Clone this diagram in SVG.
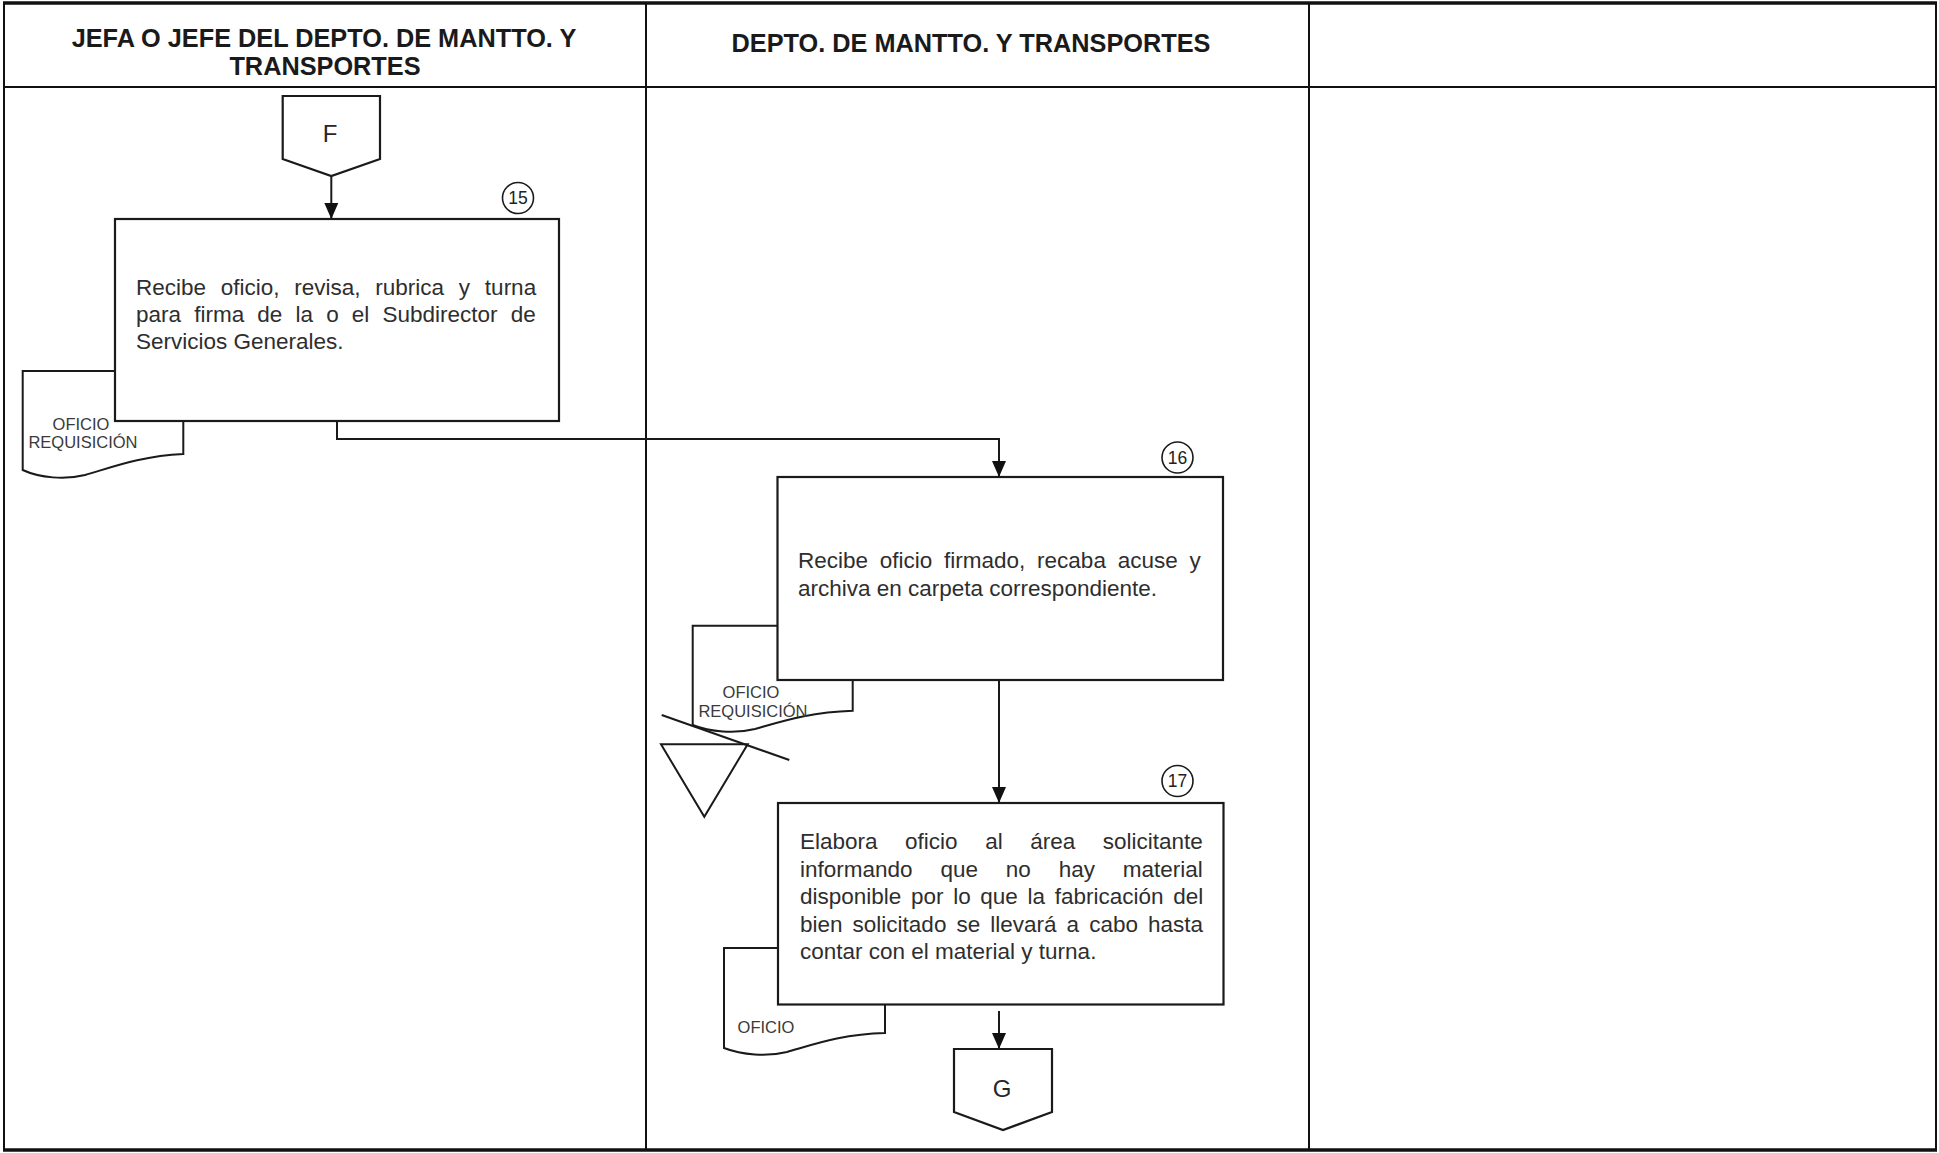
<svg xmlns="http://www.w3.org/2000/svg" width="1939" height="1153" viewBox="0 0 1939 1153">
<defs>
<style>
.frame{fill:none;stroke:#111;stroke-width:2}
.thick{stroke:#111;stroke-width:3.5}
.hdr{font-family:"Liberation Sans",Arial,sans-serif;font-weight:bold;font-size:25.3px;fill:#1a1a1a;text-anchor:middle}
.box{fill:#fff;stroke:#1a1a1a;stroke-width:2.2}
.doc{fill:#fff;stroke:#1a1a1a;stroke-width:2}
.txt{font-family:"Liberation Sans",Arial,sans-serif;font-size:22.5px;fill:#2e2e2e}
.small{font-family:"Liberation Sans",Arial,sans-serif;font-size:16.5px;fill:#3a3a3a;text-anchor:middle}
.num{font-family:"Liberation Sans",Arial,sans-serif;font-size:17.5px;fill:#222;text-anchor:middle}
.lbl{font-family:"Liberation Sans",Arial,sans-serif;font-size:24px;fill:#262626;text-anchor:middle}
.circ{fill:#fff;stroke:#1a1a1a;stroke-width:1.6}
.conn{fill:none;stroke:#1a1a1a;stroke-width:2}
</style>
<marker id="arr" markerWidth="16" markerHeight="14" refX="16" refY="7" orient="auto" markerUnits="userSpaceOnUse">
<path d="M0,0 L16,7 L0,14 Z" fill="#111"/>
</marker>
</defs>
<rect width="1939" height="1153" fill="#fff"/>

<g id="frame">
<rect class="frame" x="4" y="3" width="1932" height="1147"/>
<line class="thick" x1="3" y1="3" x2="1937" y2="3"/>
<line class="thick" x1="3" y1="1150" x2="1937" y2="1150"/>
<line class="frame" x1="4" y1="87" x2="1936" y2="87"/>
<line class="frame" x1="646" y1="3" x2="646" y2="1150"/>
<line class="frame" x1="1309" y1="3" x2="1309" y2="1150"/>
<text class="hdr" x="324" y="47">JEFA O JEFE DEL DEPTO. DE MANTTO. Y</text>
<text class="hdr" x="325" y="75">TRANSPORTES</text>
<text class="hdr" x="971" y="52">DEPTO. DE MANTTO. Y TRANSPORTES</text>
</g>

<g id="connectors">
<line class="conn" x1="331.3" y1="176" x2="331.3" y2="219" marker-end="url(#arr)"/>
<path class="conn" d="M337,421 V439 H999 V477" marker-end="url(#arr)"/>
<line class="conn" x1="999" y1="680" x2="999" y2="803" marker-end="url(#arr)"/>
<line class="conn" x1="999" y1="1011" x2="999" y2="1049" marker-end="url(#arr)"/>
</g>

<g id="conn-F">
<path class="box" d="M282.7,96 H380 V159 L331.3,176 L282.7,159 Z"/>
<text class="lbl" x="330" y="142">F</text>
</g>

<g id="doc-15">
<path class="doc" d="M22.7,371 H183.3 V454 C140,456 110,468 85,475 C65,480 40,478 22.7,470 Z"/>
<text class="small" x="81" y="430">OFICIO</text>
<text class="small" x="83" y="448">REQUISICIÓN</text>
</g>

<g id="step-15">
<rect class="box" x="115" y="219" width="444" height="202"/>
<circle class="circ" cx="518" cy="198" r="15.5"/>
<text class="num" x="518" y="204">15</text>
<text class="txt" x="136" y="295" style="word-spacing:8.5px">Recibe oficio, revisa, rubrica y turna</text>
<text class="txt" x="136" y="322" style="word-spacing:6.9px">para firma de la o el Subdirector de</text>
<text class="txt" x="136" y="349">Servicios Generales.</text>
</g>

<g id="doc-16">
<path class="doc" d="M692.7,625.7 H852.7 V710.7 C810,712 780,722 755,729 C735,734 710,732 692.7,725 Z"/>
<text class="small" x="751" y="698">OFICIO</text>
<text class="small" x="753" y="717">REQUISICIÓN</text>
</g>

<g id="archive">
<path class="conn" d="M661,744.3 H747.7 L704.3,816.7 Z"/>
<line class="conn" x1="661.7" y1="715" x2="789.3" y2="760"/>
</g>

<g id="step-16">
<rect class="box" x="777.5" y="477" width="445.5" height="203"/>
<circle class="circ" cx="1177.5" cy="457.5" r="15.5"/>
<text class="num" x="1177.5" y="463.5">16</text>
<text class="txt" x="798" y="568" style="word-spacing:5.5px">Recibe oficio firmado, recaba acuse y</text>
<text class="txt" x="798" y="595.5">archiva en carpeta correspondiente.</text>
</g>

<g id="doc-17">
<path class="doc" d="M724,948 H885 V1033 C842,1034 812,1045 787,1052 C767,1057 742,1055 724,1048 Z"/>
<text class="small" x="766" y="1033">OFICIO</text>
</g>

<g id="step-17">
<rect class="box" x="778" y="803" width="445.5" height="201.5"/>
<circle class="circ" cx="1177.5" cy="781" r="15.5"/>
<text class="num" x="1177.5" y="787">17</text>
<text class="txt" x="800" y="849" style="word-spacing:21.3px">Elabora oficio al área solicitante</text>
<text class="txt" x="800" y="876.5" style="word-spacing:21.6px">informando que no hay material</text>
<text class="txt" x="800" y="904" style="word-spacing:3.4px">disponible por lo que la fabricación del</text>
<text class="txt" x="800" y="931.5" style="word-spacing:3.8px">bien solicitado se llevará a cabo hasta</text>
<text class="txt" x="800" y="959">contar con el material y turna.</text>
</g>

<g id="conn-G">
<path class="box" d="M954,1049 H1052 V1112 L1003,1130 L954,1112 Z"/>
<text class="lbl" x="1002" y="1097">G</text>
</g>
</svg>
